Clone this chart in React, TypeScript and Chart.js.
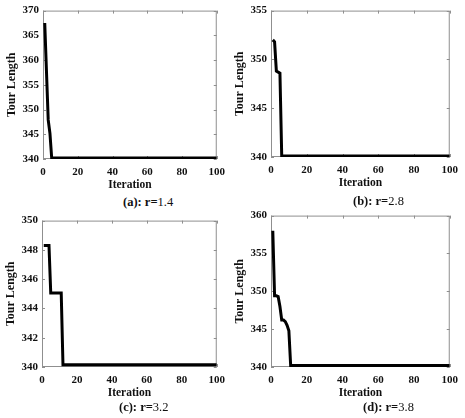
import React, { useEffect, useRef } from "react";
import { Chart, registerables } from "chart.js";

Chart.register(...registerables);

// ---- data ----
const iterA = [1, 2, 3, 4, 5, 100];
const tourA = [367.5, 357.7, 347.9, 345.2, 340.2, 340.2];

const iterB = [1, 2, 3, 4, 5, 6, 100];
const tourB = [352.0, 351.8, 348.8, 348.7, 348.6, 340.1, 340.1];

const iterC = [1, 2, 3, 4, 5, 6, 7, 8, 9, 10, 11, 12, 100];
const tourC = [348.3, 348.3, 348.3, 348.3, 345.05, 345.05, 345.05, 345.05, 345.05, 345.05, 345.05, 340.15, 340.15];

const iterD = [1, 2, 3, 4, 5, 6, 7, 8, 9, 10, 11, 100];
const tourD = [358.0, 349.4, 349.4, 349.3, 348.0, 346.2, 346.2, 346.0, 345.5, 344.8, 340.2, 340.2];

const xMin = 0;
const xMax = 100;
const xStep = 20;

const yMins = [340, 340, 340, 340];
const yMaxs = [370, 355, 350, 360];
const ySteps = [5, 5, 2, 5];

const captionHeads = ["(a): r=", "(b): r=", "(c): r=", "(d): r="];
const rValues = ["1.4", "2.8", "3.2", "3.8"];

const xTitle = "Iteration";
const yTitle = "Tour Length";

const seriesIters = [iterA, iterB, iterC, iterD];
const seriesTours = [tourA, tourB, tourC, tourD];

// ---- layout (positions only) ----
const panels = [
  { left: 0, top: 0, w: 232, h: 192, l: 43, r: 221, t: 10, b: 159, tp: 5, cap: { x: 123, y: 202 } },
  { left: 232, top: 0, w: 233, h: 190, l: 39, r: 221, t: 7, b: 157, tp: 1, cap: { x: 353, y: 201 } },
  { left: 0, top: 210, w: 232, h: 190, l: 42, r: 221, t: 10, b: 157, tp: 4, cap: { x: 119, y: 407 } },
  { left: 232, top: 205, w: 233, h: 195, l: 39, r: 221, t: 10, b: 162, tp: 1, cap: { x: 363, y: 407 } },
];

const FONT = "'Liberation Serif', 'Times New Roman', serif";

const boxPlugin = {
  id: "matlabBox",
  beforeDatasetsDraw(chart: any) {
    const { ctx, chartArea, scales } = chart;
    const { left, right, top, bottom } = chartArea;
    const x = scales.x;
    const y = scales.y;
    ctx.save();
    ctx.strokeStyle = "#8f8f8f";
    ctx.lineWidth = 1;
    ctx.beginPath();
    const tl = 3;
    x.ticks.forEach((t: any) => {
      const px = Math.round(x.getPixelForValue(t.value)) + 0.5;
      ctx.moveTo(px, bottom);
      ctx.lineTo(px, bottom - tl);
      ctx.moveTo(px, top);
      ctx.lineTo(px, top + tl);
    });
    y.ticks.forEach((t: any) => {
      const py = Math.round(y.getPixelForValue(t.value)) + 0.5;
      ctx.moveTo(left, py);
      ctx.lineTo(left + tl, py);
      ctx.moveTo(right, py);
      ctx.lineTo(right - tl, py);
    });
    ctx.stroke();
    ctx.strokeRect(left + 0.5, top + 0.5, right - left - 1, bottom - top - 1);
    ctx.restore();
  },
};

function Panel({ idx }: { idx: number }) {
  const ref = useRef<HTMLCanvasElement | null>(null);
  const p = panels[idx];
  useEffect(() => {
    if (!ref.current) return;
    const pts = seriesIters[idx].map((it, i) => ({ x: it, y: seriesTours[idx][i] }));
    const chart = new Chart(ref.current, {
      type: "line",
      data: {
        datasets: [
          {
            data: pts,
            borderColor: "#000000",
            backgroundColor: "#000000",
            borderWidth: 3,
            pointRadius: 0,
            tension: 0,
            fill: false,
          },
        ],
      },
      options: {
        responsive: false,
        animation: false,
        devicePixelRatio: 1,
        layout: { padding: { left: 0, top: p.t, right: p.w - p.r, bottom: 0 } },
        plugins: { legend: { display: false }, tooltip: { enabled: false } },
        scales: {
          x: {
            type: "linear",
            min: xMin,
            max: xMax,
            grid: { display: false, drawTicks: false },
            border: { display: false },
            ticks: {
              stepSize: xStep,
              padding: 7,
              color: "#111",
              font: { family: FONT, size: 11, weight: 700 },
              maxRotation: 0,
            },
            title: {
              display: true,
              text: xTitle,
              color: "#111",
              padding: { top: 0, bottom: 0 },
              font: { family: FONT, size: 11.5, weight: 700 },
            },
            afterFit: (s: any) => {
              s.height = p.h - p.b;
            },
          },
          y: {
            type: "linear",
            min: yMins[idx],
            max: yMaxs[idx],
            grid: { display: false, drawTicks: false },
            border: { display: false },
            ticks: {
              stepSize: ySteps[idx],
              padding: 4,
              color: "#111",
              font: { family: FONT, size: 11, weight: 700 },
            },
            title: {
              display: true,
              text: yTitle,
              color: "#111",
              padding: { top: p.tp, bottom: 0 },
              font: { family: FONT, size: 12, weight: 700 },
            },
            afterFit: (s: any) => {
              s.width = p.l;
            },
          },
        },
      },
      plugins: [boxPlugin],
    });
    return () => chart.destroy();
  }, [idx]);
  return (
    <canvas
      ref={ref}
      width={p.w}
      height={p.h}
      style={{ position: "absolute", left: p.left, top: p.top, width: p.w, height: p.h }}
    />
  );
}

export default function App() {
  return (
    <div style={{ position: "absolute", left: 0, top: 0, width: 465, height: 418, background: "#fff", overflow: "hidden" }}>
      {panels.map((p, i) => (
        <Panel key={i} idx={i} />
      ))}
      {panels.map((p, i) => (
        <div
          key={"c" + i}
          style={{
            position: "absolute",
            left: p.cap.x,
            top: p.cap.y - 8,
            height: 16,
            lineHeight: "16px",
            fontFamily: FONT,
            fontSize: 12.5,
            color: "#111",
            whiteSpace: "nowrap",
          }}
        >
          <span style={{ fontWeight: "bold" }}>{captionHeads[i]}</span>
          <span>{rValues[i]}</span>
        </div>
      ))}
    </div>
  );
}
